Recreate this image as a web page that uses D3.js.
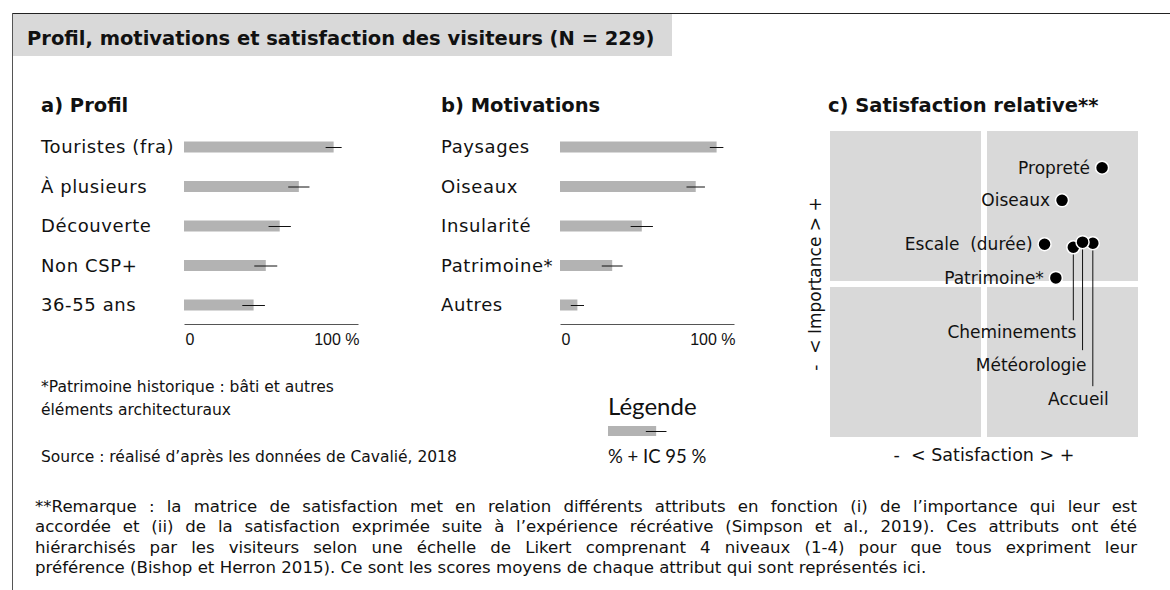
<!DOCTYPE html>
<html>
<head>
<meta charset="utf-8">
<script src="https://cdn.jsdelivr.net/npm/d3@7"></script>
<style>
  body { margin: 0; background: #fff; }
  svg text { font-family: "DejaVu Sans", Verdana, sans-serif; fill: #111; white-space: pre; }
</style>
</head>
<body>
<div id="chart"></div>
<script>
// data
const profilLabels = ["Touristes (fra)", "À plusieurs", "Découverte", "Non CSP+", "36-55 ans"];
const profilValues = [86, 66, 55, 47, 40];
const profilCI = [4.6, 6.1, 6.4, 6.6, 6.5];

const motivLabels = ["Paysages", "Oiseaux", "Insularité", "Patrimoine*", "Autres"];
const motivValues = [90, 78, 47, 30, 10];
const motivCI = [3.9, 5.3, 6.4, 6.0, 3.8];

const tickValues = [0, 100];
const tickLabels = ["0", "100 %"];

// satisfaction matrix (scores moyens, échelle 1-4)
const attributs = ["Propreté", "Oiseaux", "Escale  (durée)", "Patrimoine*", "Cheminements", "Accueil", "Météorologie"];
const satisfaction = [3.65, 3.26, 3.09, 3.20, 3.37, 3.56, 3.46];
const importance = [3.64, 3.32, 2.89, 2.56, 2.86, 2.90, 2.91];
// labels hung under a leader line: [drop in px, horizontal shift, label gap]
const leaders = { "Cheminements": [73, 3, 12], "Météorologie": [108, 4, 15], "Accueil": [143, 16, 13] };

const remarque = [
  "**Remarque : la matrice de satisfaction met en relation différents attributs en fonction (i) de l’importance qui leur est",
  "accordée et (ii) de la satisfaction exprimée suite à l’expérience récréative (Simpson et al., 2019). Ces attributs ont été",
  "hiérarchisés par les visiteurs selon une échelle de Likert comprenant 4 niveaux (1-4) pour que tous expriment leur",
  "préférence (Bishop et Herron 2015). Ce sont les scores moyens de chaque attribut qui sont représentés ici."
];

const width = 1170, height = 590;
const svg = d3.select("#chart").append("svg")
    .attr("width", width)
    .attr("height", height);

// frame + title band
svg.append("rect").attr("x", 13).attr("y", 14).attr("width", 659).attr("height", 42).attr("fill", "#d9d9d9");
svg.append("line").attr("x1", 12).attr("x2", width).attr("y1", 13.5).attr("y2", 13.5).attr("stroke", "#222");
svg.append("line").attr("x1", 12.5).attr("x2", 12.5).attr("y1", 13).attr("y2", height).attr("stroke", "#555");
svg.append("text").attr("x", 27).attr("y", 45)
    .style("font-weight", "bold").style("font-size", "19.5px")
    .text("Profil, motivations et satisfaction des visiteurs (N = 229)");

// section titles
const heads = [["a) Profil", 41], ["b) Motivations", 441], ["c) Satisfaction relative**", 828]];
svg.selectAll(".head").data(heads).join("text")
    .attr("x", d => d[1]).attr("y", 112)
    .style("font-weight", "bold").style("font-size", "19.5px")
    .text(d => d[0]);

// bar panels
function barPanel(labels, values, ci, labelX, x0) {
  const x = d3.scaleLinear().domain([0, 100]).range([x0, x0 + 174]);
  const y = d3.scalePoint().domain(labels).range([147, 305]);
  const g = svg.append("g");

  g.selectAll(".lab").data(labels).join("text")
      .attr("x", labelX).attr("y", d => y(d)).attr("dy", "0.36em")
      .style("font-size", "18px").style("letter-spacing", "0.6px")
      .text(d => d);

  g.selectAll(".bar").data(values).join("rect")
      .attr("x", x(0)).attr("y", (d, i) => y(labels[i]) - 5.5)
      .attr("width", d => x(d) - x(0)).attr("height", 11)
      .attr("fill", "#b3b3b3");

  g.selectAll(".err").data(values).join("line")
      .attr("x1", (d, i) => x(d - ci[i])).attr("x2", (d, i) => x(d + ci[i]))
      .attr("y1", (d, i) => y(labels[i]) + 0.5).attr("y2", (d, i) => y(labels[i]) + 0.5)
      .attr("stroke", "#111").attr("stroke-width", 1);

  const ax = g.append("g").attr("transform", "translate(0,324)")
      .call(d3.axisBottom(x).tickValues(tickValues).tickSize(0).tickSizeOuter(0)
        .tickFormat((d, i) => tickLabels[i]));
  ax.select(".domain").attr("stroke", "#555");
  ax.selectAll("text")
      .attr("dy", "1.1em")
      .style("font-family", "'Liberation Sans', Arial, sans-serif").style("font-size", "16px").style("fill", "#111")
      .attr("text-anchor", (d, i) => i === 0 ? "start" : "end")
      .attr("dx", 1);
}
barPanel(profilLabels, profilValues, profilCI, 41, 184);
barPanel(motivLabels, motivValues, motivCI, 441, 560);

// satisfaction matrix
const xs = d3.scaleLinear().domain([1, 4]).range([830, 1138]);
const ys = d3.scaleLinear().domain([1, 4]).range([437, 131]);
const gap = 3;
const quads = [[1, 2.5, 2.5, 4], [2.5, 4, 2.5, 4], [1, 2.5, 1, 2.5], [2.5, 4, 1, 2.5]];
const m = svg.append("g");
m.selectAll(".quad").data(quads).join("rect")
    .attr("x", d => xs(d[0]) + (d[0] === 1 ? 0 : gap))
    .attr("width", d => xs(d[1]) - xs(d[0]) - gap)
    .attr("y", d => ys(d[3]) + (d[3] === 4 ? 0 : gap))
    .attr("height", d => ys(d[2]) - ys(d[3]) - gap)
    .attr("fill", "#d9d9d9");

const pts = attributs.map((a, i) => ({ name: a, s: satisfaction[i], imp: importance[i] }));

m.selectAll(".lead").data(pts.filter(d => leaders[d.name])).join("line")
    .attr("x1", d => xs(d.s)).attr("x2", d => xs(d.s))
    .attr("y1", d => ys(d.imp)).attr("y2", d => ys(d.imp) + leaders[d.name][0])
    .attr("stroke", "#111").attr("stroke-width", 1);

m.selectAll(".dot").data(pts).join("circle")
    .attr("cx", d => xs(d.s)).attr("cy", d => ys(d.imp)).attr("r", 6.5)
    .attr("fill", "#000").attr("stroke", "#fff").attr("stroke-width", 1.5);

m.selectAll(".plab").data(pts).join("text")
    .attr("text-anchor", "end")
    .attr("x", d => leaders[d.name] ? xs(d.s) + leaders[d.name][1] : xs(d.s) - 12)
    .attr("y", d => leaders[d.name] ? ys(d.imp) + leaders[d.name][0] + leaders[d.name][2] : ys(d.imp))
    .attr("dy", "0.36em")
    .style("font-size", "17px")
    .text(d => d.name);

svg.append("text").attr("x", xs(2.5)).attr("y", 455).attr("dy", "0.36em")
    .attr("text-anchor", "middle").style("font-size", "17.5px")
    .text("-  < Satisfaction > +");
svg.append("text").attr("transform", `translate(815,${ys(2.5)}) rotate(-90)`).attr("dy", "0.36em")
    .attr("text-anchor", "middle").style("font-size", "17px")
    .text("-  < Importance > +");

// legend
const lx = d3.scaleLinear().domain([0, 100]).range([608, 780]);
const legendValue = 28, legendCI = 6;
svg.append("text").attr("x", 608).attr("y", 406).attr("dy", "0.36em")
    .style("font-family", "Lato, sans-serif").style("font-size", "24px").text("Légende");
svg.append("rect").attr("x", lx(0)).attr("y", 426).attr("width", lx(legendValue) - lx(0)).attr("height", 10).attr("fill", "#b3b3b3");
svg.append("line").attr("x1", lx(legendValue - legendCI)).attr("x2", lx(legendValue + legendCI))
    .attr("y1", 431.5).attr("y2", 431.5).attr("stroke", "#111");
svg.append("text").attr("x", 608).attr("y", 456).attr("dy", "0.36em")
    .style("font-family", "Lato, sans-serif").style("font-size", "18.5px").text("% + IC 95 %");

// notes
const notes = [["*Patrimoine historique : bâti et autres", 386], ["éléments architecturaux", 409],
  ["Source : réalisé d’après les données de Cavalié, 2018", 456]];
svg.selectAll(".note").data(notes).join("text")
    .attr("x", 41).attr("y", d => d[1]).attr("dy", "0.36em")
    .style("font-size", "15.5px").text(d => d[0]);

// justified remark
const rx0 = 35, rx1 = 1137;
remarque.forEach((line, li) => {
  const t = svg.append("text").attr("y", 506 + li * 20.3).attr("dy", "0.36em").style("font-size", "16.6px");
  const words = line.split(" ");
  const spans = words.map(w => t.append("tspan").text(w));
  const widths = spans.map(s => s.node().getComputedTextLength());
  const total = d3.sum(widths);
  const justified = li < remarque.length - 1;
  const space = justified ? (rx1 - rx0 - total) / (words.length - 1) : 16.6 * 0.318;
  let cx = rx0;
  spans.forEach((s, i) => { s.attr("x", cx); cx += widths[i] + space; });
});
</script>
</body>
</html>
